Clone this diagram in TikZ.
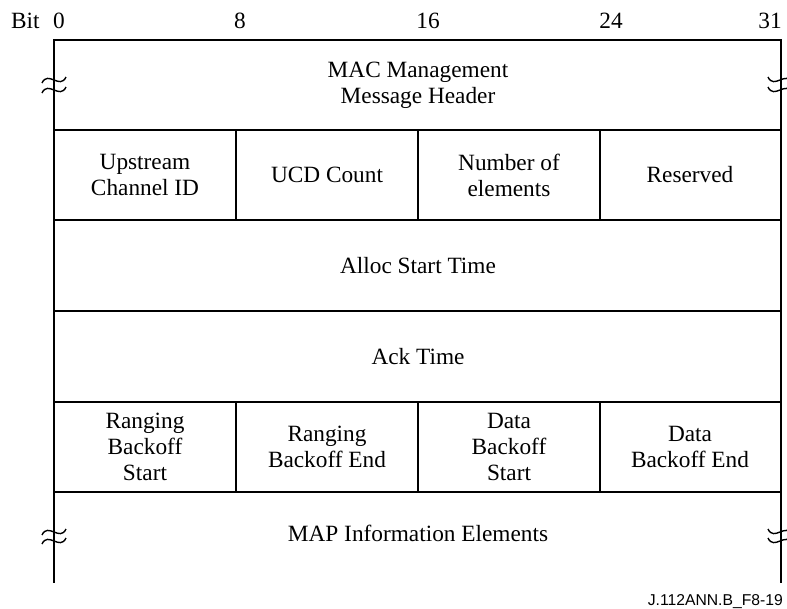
\documentclass[tikz,border=0pt]{standalone}
\usepackage{fontspec}
\setmainfont{Liberation Serif}
\newfontfamily\labfont{Liberation Sans}
\begin{document}
\begin{tikzpicture}[x=1pt,y=-1pt,
  cell/.style={align=center,inner sep=0pt,font=\fontsize{23.3}{26}\selectfont},
  bitlab/.style={anchor=base,inner sep=0pt,font=\fontsize{23.3}{26}\selectfont},
  outer/.style={line width=2.6pt},
  inner/.style={line width=2pt},
  brk/.style={line width=1.4pt}]
\useasboundingbox (0,0) rectangle (787,608);
% bit labels
\node[bitlab,anchor=base west] (bit) at (11,28) {Bit};
\node[bitlab] (b0) at (59,28) {0};
\node[bitlab] (b8) at (240,28) {8};
\node[bitlab] (b16) at (428,28) {16};
\node[bitlab] (b24) at (611,28) {24};
\node[bitlab] (b31) at (770,28) {31};
% frame
\draw[outer,line cap=rect] (54,582) -- (54,40) -- (781,40) -- (781,582);
\draw[inner] (54,130) -- (781,130);
\draw[inner] (54,220) -- (781,220);
\draw[inner] (54,311) -- (781,311);
\draw[inner] (54,402) -- (781,402);
\draw[inner] (54,492) -- (781,492);
\foreach \x in {236,418,600} {
  \draw[inner] (\x,130) -- (\x,220);
  \draw[inner] (\x,402) -- (\x,492);
}
% break marks
\foreach \y in {80,90,532,541} {
  \draw[brk] (42,\y+3) .. controls (48,\y-10) and (60,\y+10) .. (66,\y-3);
  \draw[brk] (768,\y-3) .. controls (774,\y+10) and (786,\y-10) .. (792,\y+3);
}
% cells
\node[cell] (hdr) at (418,85) {MAC Management\\Message Header};
\node[cell] (ucid) at (145,175) {Upstream\\Channel ID};
\node[cell] (ucd) at (327,175) {UCD Count};
\node[cell] (nel) at (509,175) {Number of\\elements};
\node[cell] (res) at (690,175) {Reserved};
\node[cell] (alloc) at (418,266) {Alloc Start Time};
\node[cell] (ack) at (418,357) {Ack Time};
\node[cell] (rbs) at (145,447) {Ranging\\Backoff\\Start};
\node[cell] (rbe) at (327,447) {Ranging\\Backoff End};
\node[cell] (dbs) at (509,447) {Data\\Backoff\\Start};
\node[cell] (dbe) at (690,447) {Data\\Backoff End};
\node[cell] (map) at (418,533) {MAP Information Elements};
\node[anchor=base east,inner sep=0pt,font=\labfont\fontsize{15.7}{18}\selectfont] (fig) at (783,605) {J.112ANN.B\_F8-19};
\end{tikzpicture}
\end{document}
